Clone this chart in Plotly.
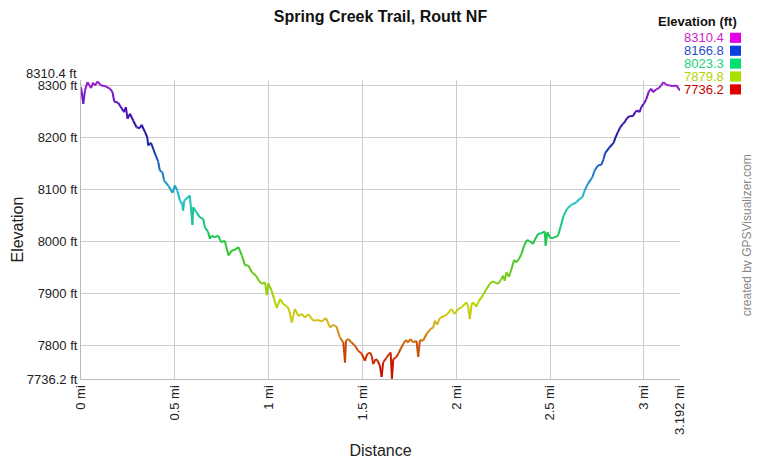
import plotly.graph_objects as go
from plotly.colors import sample_colorscale

# ---- data ----
distance_mi = [
    0.000, 0.012, 0.021, 0.035, 0.053, 0.065, 0.075, 0.088, 0.106, 0.128,
    0.154, 0.168, 0.177, 0.198, 0.216, 0.230, 0.239, 0.248, 0.261, 0.278,
    0.296, 0.314, 0.323, 0.341, 0.353, 0.358, 0.373, 0.385, 0.397, 0.411,
    0.420, 0.434, 0.443, 0.465, 0.487, 0.500, 0.513, 0.527, 0.539, 0.544,
    0.550, 0.557, 0.580, 0.594, 0.598, 0.615, 0.633, 0.651, 0.660, 0.677,
    0.687, 0.695, 0.713, 0.731, 0.748, 0.766, 0.786, 0.804, 0.821, 0.839,
    0.857, 0.874, 0.892, 0.910, 0.933, 0.945, 0.963, 0.981, 0.990, 0.998,
    1.016, 1.029, 1.043, 1.061, 1.078, 1.100, 1.110, 1.123, 1.140, 1.158,
    1.176, 1.194, 1.211, 1.238, 1.264, 1.283, 1.305, 1.327, 1.344, 1.362,
    1.380, 1.398, 1.407, 1.412, 1.424, 1.442, 1.460, 1.477, 1.495, 1.513,
    1.525, 1.540, 1.549, 1.557, 1.570, 1.581, 1.593, 1.602, 1.610, 1.629,
    1.642, 1.650, 1.657, 1.664, 1.678, 1.690, 1.703, 1.717, 1.731, 1.743,
    1.756, 1.770, 1.788, 1.797, 1.806, 1.823, 1.841, 1.862, 1.877, 1.886,
    1.898, 1.912, 1.939, 1.956, 1.974, 1.992, 2.010, 2.028, 2.054, 2.063,
    2.072, 2.081, 2.089, 2.107, 2.121, 2.134, 2.143, 2.161, 2.178, 2.193,
    2.205, 2.222, 2.241, 2.249, 2.258, 2.267, 2.281, 2.294, 2.308, 2.320,
    2.334, 2.347, 2.365, 2.377, 2.391, 2.409, 2.418, 2.435, 2.453, 2.471,
    2.476, 2.485, 2.501, 2.515, 2.533, 2.542, 2.555, 2.572, 2.590, 2.613,
    2.640, 2.657, 2.672, 2.684, 2.701, 2.725, 2.737, 2.755, 2.773, 2.785,
    2.794, 2.817, 2.838, 2.849, 2.861, 2.874, 2.888, 2.897, 2.909, 2.923,
    2.941, 2.954, 2.962, 2.976, 2.986, 2.999, 3.012, 3.026, 3.039, 3.047,
    3.065, 3.079, 3.092, 3.104, 3.119, 3.136, 3.154, 3.172, 3.192,
]
elevation_ft = [
    8296.7, 8264.8, 8290.4, 8306.3, 8294.8, 8305.2, 8300.0, 8307.7, 8300.0, 8298.7,
    8293.7, 8287.1, 8269.2, 8266.7, 8256.3, 8248.7, 8258.3, 8236.0, 8245.6, 8232.7,
    8219.8, 8217.9, 8224.4, 8210.2, 8200.6, 8184.6, 8189.8, 8178.3, 8166.7, 8153.9,
    8136.5, 8133.3, 8117.3, 8107.7, 8093.7, 8107.7, 8098.1, 8078.8, 8072.5, 8059.6,
    8078.8, 8080.8, 8088.5, 8032.1, 8066.0, 8056.4, 8046.7, 8043.7, 8027.5, 8019.2,
    8005.2, 8011.6, 8008.3, 8011.6, 7998.7, 8001.9, 7973.6, 7983.1, 7984.4, 7989.4,
    7973.6, 7954.4, 7954.4, 7941.3, 7934.6, 7926.4, 7918.7, 7921.8, 7897.5, 7919.8,
    7905.8, 7889.8, 7872.5, 7889.8, 7880.2, 7875.0, 7867.3, 7844.8, 7870.6, 7857.7,
    7860.9, 7854.4, 7860.9, 7848.1, 7849.4, 7846.7, 7853.3, 7835.2, 7840.4, 7836.5,
    7816.0, 7806.4, 7767.9, 7809.6, 7812.9, 7806.4, 7800.0, 7790.4, 7785.2, 7771.2,
    7784.0, 7787.1, 7780.8, 7764.8, 7774.4, 7771.2, 7761.5, 7740.4, 7767.9, 7777.5,
    7784.0, 7787.1, 7736.7, 7774.4, 7777.5, 7784.0, 7793.7, 7803.3, 7811.0, 7806.4,
    7812.9, 7806.4, 7809.6, 7778.8, 7811.0, 7809.6, 7822.5, 7832.0, 7835.2, 7848.1,
    7840.4, 7853.3, 7857.7, 7862.1, 7870.6, 7861.0, 7870.6, 7873.7, 7883.3, 7875.0,
    7851.4, 7878.9, 7883.3, 7875.0, 7886.6, 7892.9, 7898.1, 7909.1, 7918.7, 7923.7,
    7921.8, 7918.7, 7928.3, 7934.6, 7925.0, 7941.0, 7932.7, 7947.5, 7964.8, 7960.2,
    7966.7, 7976.4, 7995.6, 8003.3, 8000.6, 7995.6, 8003.3, 8014.8, 8016.0, 8019.8,
    7992.3, 8017.9, 8007.1, 8007.1, 8009.6, 8011.6, 8027.5, 8050.0, 8062.9, 8070.6,
    8075.6, 8082.1, 8085.2, 8098.1, 8111.0, 8123.7, 8136.5, 8146.2, 8147.5, 8159.0,
    8170.6, 8181.3, 8189.8, 8200.6, 8210.2, 8219.8, 8226.3, 8229.4, 8237.1, 8241.0,
    8241.0, 8248.7, 8251.9, 8248.7, 8258.3, 8264.8, 8273.1, 8288.5, 8293.7, 8287.1,
    8292.3, 8294.8, 8300.0, 8306.3, 8301.3, 8300.0, 8298.7, 8300.0, 8290.4,
]

elev_min = 7736.2
elev_max = 8310.4
dist_max = 3.192

x_tick_vals = [0, 0.5, 1, 1.5, 2, 2.5, 3, 3.192]
x_tick_text = ["0 mi", "0.5 mi", "1 mi", "1.5 mi", "2 mi", "2.5 mi", "3 mi", "3.192 mi"]
y_tick_vals = [7736.2, 7800, 7900, 8000, 8100, 8200, 8300, 8310.4]
y_tick_text = ["7736.2 ft", "7800 ft", "7900 ft", "8000 ft", "8100 ft", "8200 ft", "8300 ft", ""]

legend_values = ["8310.4", "8166.8", "8023.3", "7879.8", "7736.2"]
legend_text_colors = ["#cc22cc", "#1f4fc8", "#22d07a", "#b4d400", "#c40000"]
legend_box_colors = ["#e600e6", "#0a3fe0", "#00e070", "#a8e000", "#e00000"]

line_scale = [
    [0.00, "#c00000"], [0.076, "#cc3300"], [0.13, "#d07010"], [0.20, "#d4c41c"],
    [0.25, "#b8d400"], [0.37, "#60c820"], [0.46, "#20c840"], [0.50, "#10c870"],
    [0.60, "#20c0c8"], [0.70, "#2070c0"], [0.81, "#1a1aa0"], [0.895, "#5010b8"],
    [1.00, "#a020d0"],
]

FONT = "Arial, 'Liberation Sans', sans-serif"

fig = go.Figure()
for i in range(len(distance_mi) - 1):
    mid = (elevation_ft[i] + elevation_ft[i + 1]) / 2
    t = min(max((mid - elev_min) / (elev_max - elev_min), 0), 1)
    col = sample_colorscale(line_scale, [t])[0]
    fig.add_trace(go.Scatter(
        x=distance_mi[i:i + 2], y=elevation_ft[i:i + 2], mode="lines",
        line=dict(color=col, width=2), showlegend=False, hoverinfo="skip",
    ))

# page has an 8px body margin, so the figure is 8px smaller and offset
fig.update_layout(
    width=752, height=452,
    margin=dict(l=73, r=80, t=72, b=81),
    paper_bgcolor="white", plot_bgcolor="white",
    font=dict(family=FONT, color="#222", size=13),
    title=dict(text="<b>Spring Creek Trail, Routt NF</b>", x=(73 + 299.5) / 752,
               xanchor="center", y=0.981, yanchor="middle",
               font=dict(size=16, color="#111")),
    xaxis=dict(range=[0, dist_max], tickvals=x_tick_vals, ticktext=x_tick_text,
               tickangle=-90, showgrid=True, gridcolor="#cccccc", gridwidth=1,
               showline=True, linecolor="#bbbbbb", zeroline=False, ticks="",
               tickfont=dict(size=13), automargin=False,
               title=dict(text="Distance", font=dict(size=16), standoff=10)),
    yaxis=dict(range=[elev_min, elev_max], tickvals=y_tick_vals, ticktext=y_tick_text,
               showgrid=True, gridcolor="#cccccc", gridwidth=1,
               showline=True, linecolor="#bbbbbb", zeroline=False, ticks="",
               tickfont=dict(size=13), automargin=False,
               title=dict(text="", font=dict(size=16))),
)

# y axis title placed like the reference
fig.add_annotation(x=0, y=0.5, xref="paper", yref="paper", text="Elevation",
                   textangle=-90, showarrow=False, xanchor="center", yanchor="middle",
                   xshift=-64, borderpad=0, font=dict(size=16, color="#222"))

# top label for the max elevation (shifted up like the reference)
fig.add_annotation(x=0, y=elev_max, xref="paper", yref="y", text="8310.4 ft",
                   showarrow=False, xanchor="right", yanchor="middle",
                   xshift=-2, yshift=7, font=dict(size=13, color="#222"))

# elevation colour legend
fig.add_annotation(x=1.098, y=1.195, xref="paper", yref="paper",
                   text="<b>Elevation (ft)</b>", showarrow=False,
                   xanchor="right", yanchor="middle", font=dict(size=13, color="#111"))
row_y0 = 1.141
row_dy = 0.0431
for k, (val, tc, bc) in enumerate(zip(legend_values, legend_text_colors, legend_box_colors)):
    yy = row_y0 - k * row_dy
    fig.add_annotation(x=1.075, y=yy, xref="paper", yref="paper", text=val,
                       showarrow=False, xanchor="right", yanchor="middle",
                       borderpad=0, font=dict(size=13, color=tc))
    fig.add_shape(type="rect", xref="paper", yref="paper",
                  x0=1.0835, x1=1.1018, y0=yy - 0.017, y1=yy + 0.017,
                  fillcolor=bc, line=dict(width=0))

fig.add_annotation(x=1.113, y=0.48, xref="paper", yref="paper",
                   text="created by GPSVisualizer.com", textangle=-90,
                   showarrow=False, xanchor="center", yanchor="middle",
                   font=dict(size=12, color="#888"))

fig.write_html("out.html")
